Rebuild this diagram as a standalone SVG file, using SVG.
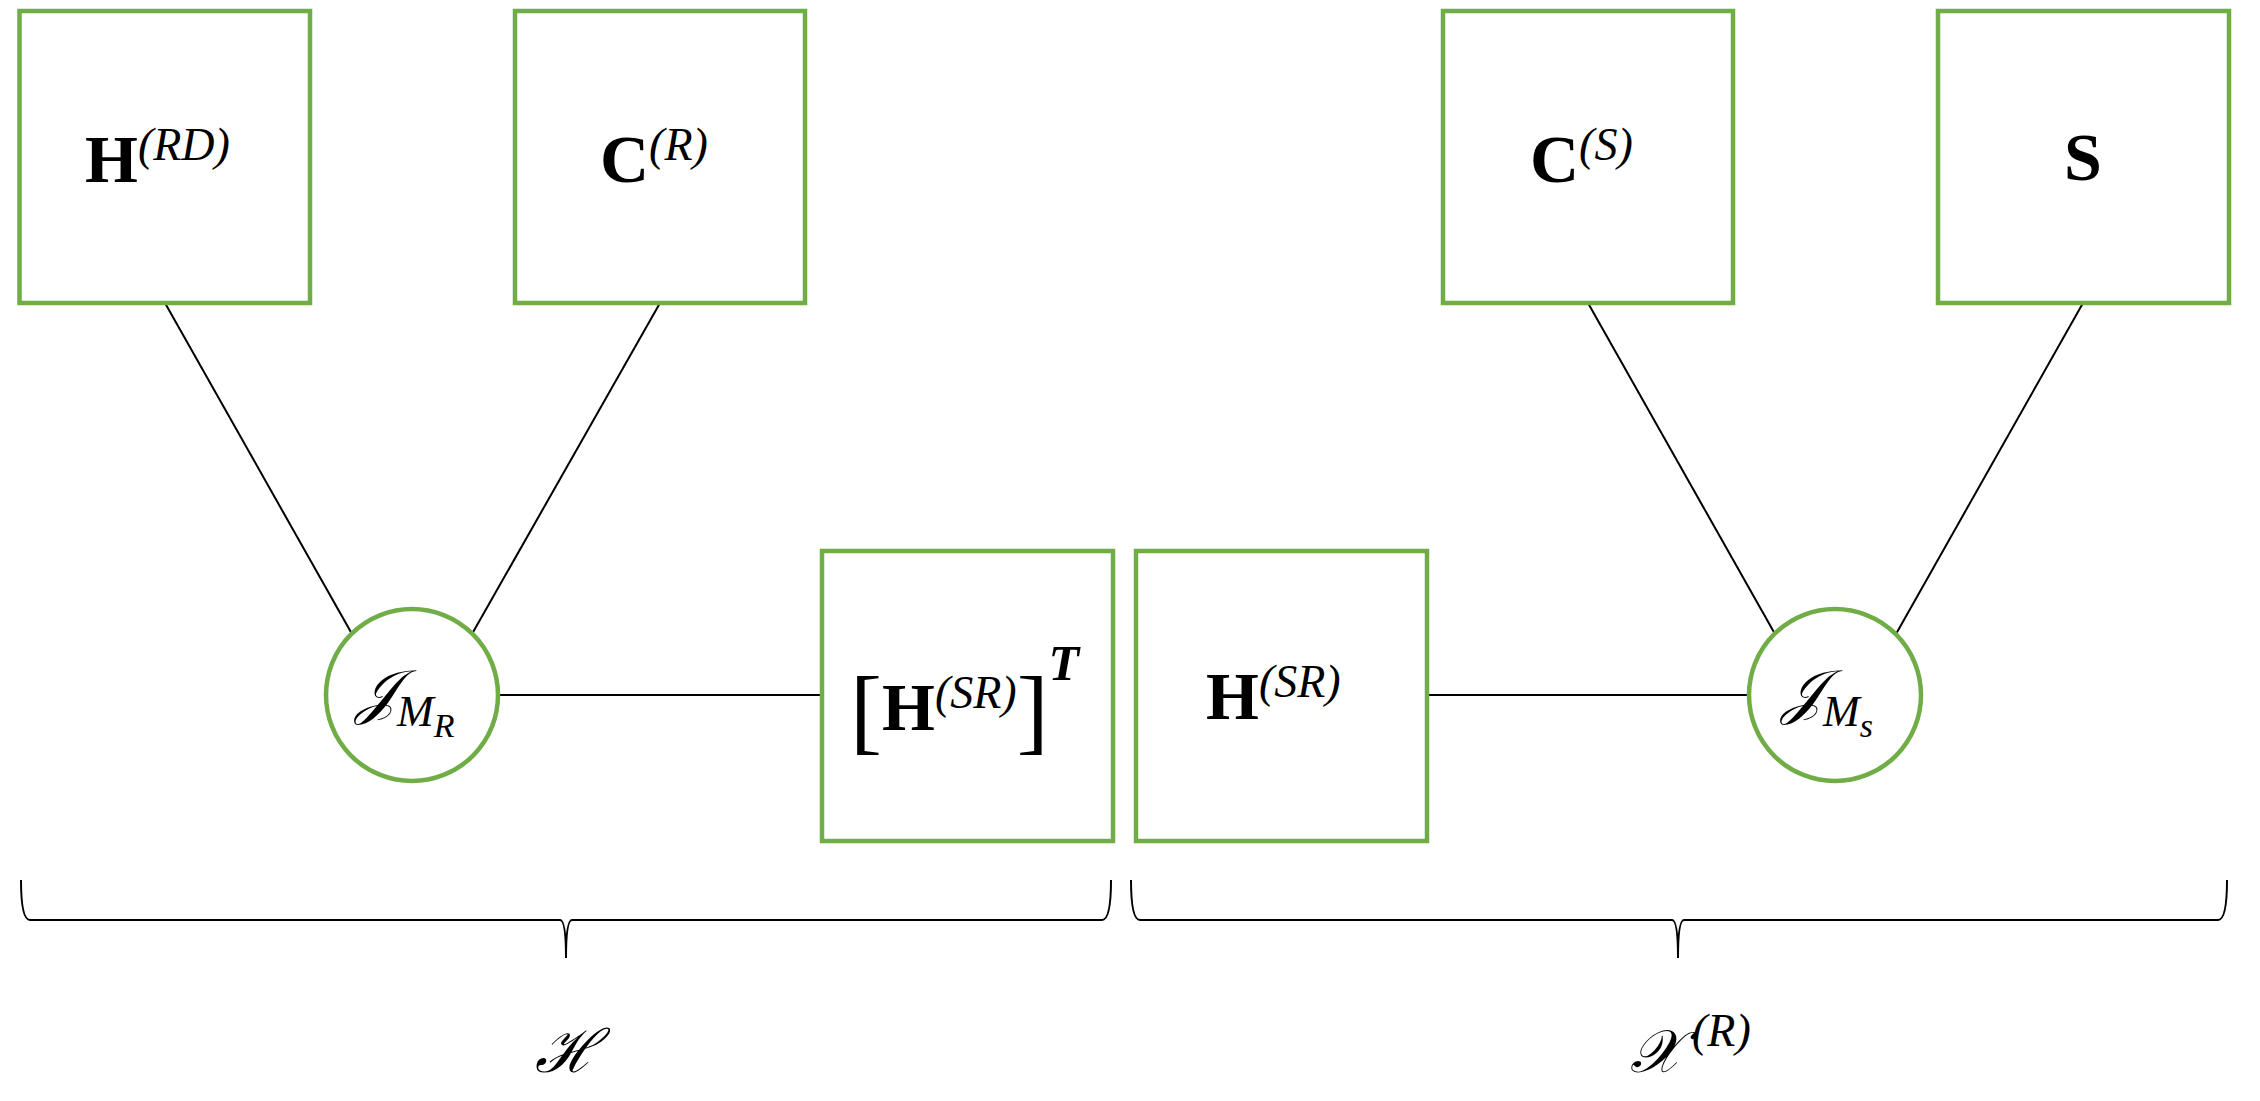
<svg xmlns="http://www.w3.org/2000/svg" width="2260" height="1101" viewBox="0 0 2260 1101">
<style>
.box{fill:#fff;stroke:#70ad47;stroke-width:4.5}
.ln{stroke:#000;stroke-width:2;fill:none}
.b{font-family:"Liberation Serif",serif;font-weight:bold;font-size:68px}
.s{font-family:"Liberation Serif",serif;font-style:italic;font-weight:normal;font-size:46px}
.m{font-family:"DejaVu Serif","Liberation Serif",serif;font-style:italic;font-size:60px}
.ms{font-family:"Liberation Serif",serif;font-style:italic;font-size:44px}
</style>
<rect width="2260" height="1101" fill="#fff"/>
<g id="connectors">
<line class="ln" x1="165" y1="303" x2="352" y2="634"/>
<line class="ln" x1="660" y1="303" x2="472" y2="634"/>
<line class="ln" x1="498" y1="695" x2="822" y2="695"/>
<line class="ln" x1="1588" y1="303" x2="1775" y2="634"/>
<line class="ln" x1="2083" y1="303" x2="1896" y2="634"/>
<line class="ln" x1="1427" y1="695" x2="1749" y2="695"/>
<path class="ln" d="M21 880 Q21 920 30 920 L560 920 Q566 920 566 958 Q566 920 572 920 L1102 920 Q1111 920 1111 880"/>
<path class="ln" d="M1131 880 Q1131 920 1140 920 L1672 920 Q1678 920 1678 958 Q1678 920 1684 920 L2218 920 Q2227 920 2227 880"/>
</g>
<g id="HRD"><rect class="box" x="19.5" y="11" width="290.5" height="292"/>
<text x="85" y="182" class="b">H<tspan class="s" dy="-22">(RD)</tspan></text></g>
<g id="CR"><rect class="box" x="515" y="11" width="290" height="292"/>
<text x="600" y="182" class="b">C<tspan class="s" dy="-22">(R)</tspan></text></g>
<g id="HSRT"><rect class="box" x="822" y="551" width="291" height="290"/>
<text x="850" y="730" class="b"><tspan style="font-size:96px;font-weight:normal" dy="12">[</tspan><tspan dy="-12">H</tspan><tspan class="s" dy="-22">(SR)</tspan><tspan style="font-size:96px;font-weight:normal" dy="34">]</tspan><tspan style="font-style:italic;font-weight:bold;font-size:50px" dy="-62">T</tspan></text></g>
<g id="JMR"><circle class="box" cx="412" cy="695" r="86"/>
<text x="356" y="712" class="m">𝒥<tspan class="ms" dy="14">M</tspan><tspan class="ms" style="font-size:34px" dy="11">R</tspan></text></g>
<g id="HSR"><rect class="box" x="1136" y="551" width="291" height="290"/>
<text x="1206" y="719" class="b">H<tspan class="s" dy="-22">(SR)</tspan></text></g>
<g id="CS"><rect class="box" x="1443" y="11" width="290" height="292"/>
<text x="1530" y="182" class="b">C<tspan class="s" dy="-22">(S)</tspan></text></g>
<g id="S"><rect class="box" x="1938" y="11" width="291" height="292"/>
<text x="2083" y="180" class="b" text-anchor="middle">S</text></g>
<g id="JMS"><circle class="box" cx="1835" cy="695" r="86"/>
<text x="1782" y="712" class="m">𝒥<tspan class="ms" dy="14">M</tspan><tspan class="ms" style="font-size:34px" dy="11">s</tspan></text></g>
<g id="labelH"><text x="566" y="1072" class="m" text-anchor="middle">ℋ</text></g>
<g id="labelX"><text x="1630" y="1072" class="m">𝒳<tspan class="s" dx="10" dy="-26">(R)</tspan></text></g>
</svg>
